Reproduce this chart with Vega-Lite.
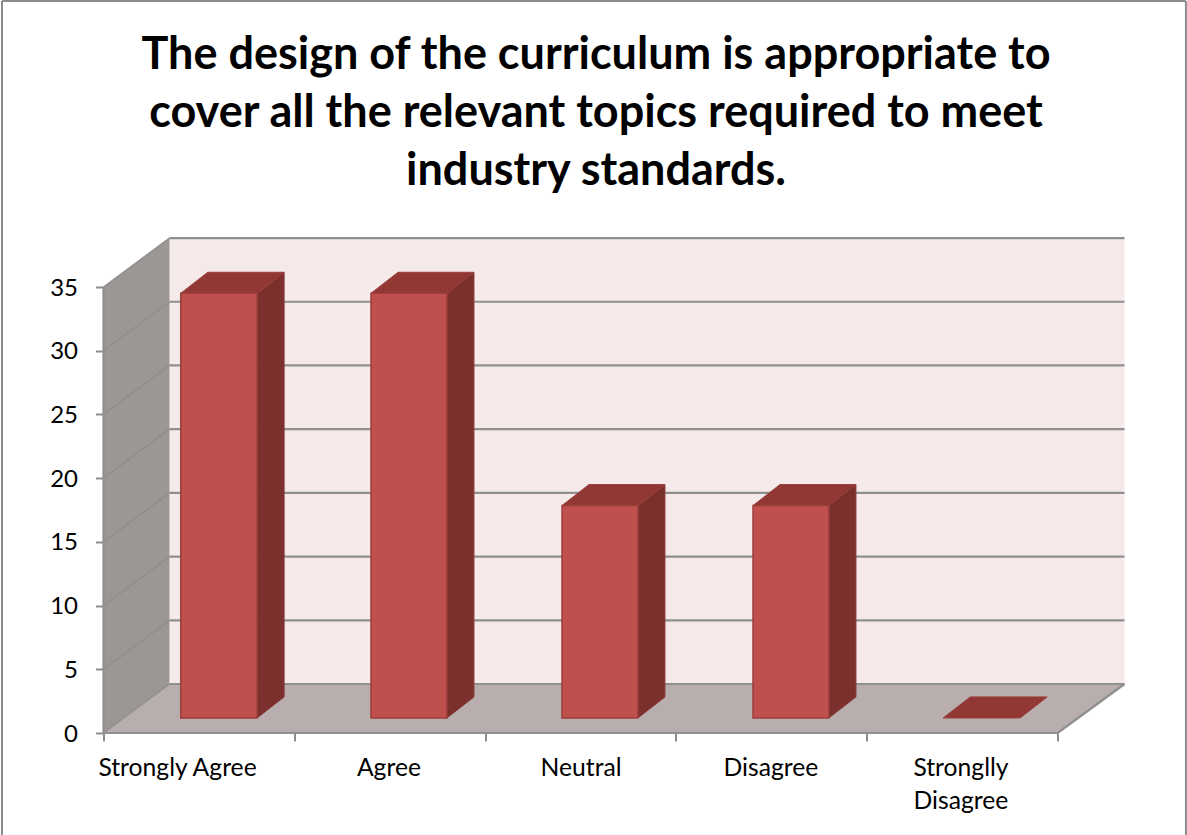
{"$schema":"https://vega.github.io/schema/vega-lite/v6.json","width":1021,"height":495,"autosize":{"type":"none"},"padding":{"left":103.5,"top":238,"right":62.5,"bottom":102},"background":"white",
"title":{"text":["The design of the curriculum is appropriate to","cover all the relevant topics required to meet","industry standards."],"font":"Lato","fontWeight":"bold","fontSize":45,"lineHeight":58,"color":"#000000","anchor":"middle","frame":"group","dx":-18,"baseline":"top","offset":-194},
"config":{"view":{"stroke":null}},
"datasets":{
"bars":[{"category":"Strongly Agree","x0":0.405,"x1":0.805,"value":33.33},{"category":"Agree","x0":1.402,"x1":1.8,"value":33.33},{"category":"Neutral","x0":2.403,"x1":2.801,"value":16.67},{"category":"Disagree","x0":3.404,"x1":3.802,"value":16.67}],
"sides":[{"category":"Strongly Agree","x":0.805,"lo":1.18,"hi":34.51},{"category":"Strongly Agree","x":0.9465,"lo":2.83,"hi":36.16},{"category":"Agree","x":1.8,"lo":1.18,"hi":34.51},{"category":"Agree","x":1.9415,"lo":2.83,"hi":36.16},{"category":"Neutral","x":2.801,"lo":1.18,"hi":17.85},{"category":"Neutral","x":2.9425,"lo":2.83,"hi":19.5},{"category":"Disagree","x":3.802,"lo":1.18,"hi":17.85},{"category":"Disagree","x":3.9435,"lo":2.83,"hi":19.5}],
"tops":[{"category":"Strongly Agree","y":34.51,"a":0.405,"b":0.805},{"category":"Strongly Agree","y":36.16,"a":0.5465,"b":0.9465},{"category":"Agree","y":34.51,"a":1.402,"b":1.8},{"category":"Agree","y":36.16,"a":1.5435,"b":1.9415},{"category":"Neutral","y":17.85,"a":2.403,"b":2.801},{"category":"Neutral","y":19.5,"a":2.5445,"b":2.9425},{"category":"Disagree","y":17.85,"a":3.404,"b":3.802},{"category":"Disagree","y":19.5,"a":3.5455,"b":3.9435},{"category":"Stronglly Disagree","y":1.18,"a":4.401,"b":4.804},{"category":"Stronglly Disagree","y":2.83,"a":4.5425,"b":4.9455}],
"grid":[{"v":0,"b":3.846},{"v":5,"b":8.846},{"v":10,"b":13.846},{"v":15,"b":18.846},{"v":20,"b":23.846},{"v":25,"b":28.846},{"v":30,"b":33.846},{"v":35,"b":38.846}],
"labels":[{"label":"Strongly Agree","pos":0.388},{"label":"Agree","pos":1.496},{"label":"Neutral","pos":2.503},{"label":"Disagree","pos":3.498},{"label":"Stronglly\nDisagree","pos":4.494}]
},
"layer":[
{"data":{"values":[{"x":-0.532,"x2":-0.532,"y":-8,"y2":57.46},{"x":5.673,"x2":5.673,"y":-8,"y2":57.46},{"x":-0.532,"x2":5.673,"y":57.46,"y2":57.46}]},"mark":{"type":"rule","color":"#8c8c8c","strokeWidth":2,"clip":false},"encoding":{"x":{"field":"x","type":"quantitative","scale":{"domain":[0,5.351],"nice":false,"zero":false},"axis":{"values":[0,1,2,3,4,5],"labels":false,"grid":false,"domain":false,"title":null,"tickSize":8,"tickWidth":2,"tickColor":"#8c8c8c"}},"x2":{"field":"x2"},"y":{"field":"y","type":"quantitative","scale":{"domain":[0,38.85],"nice":false,"zero":false},"axis":{"values":[0,5,10,15,20,25,30,35],"grid":false,"domain":false,"title":null,"tickSize":8,"tickWidth":2,"tickColor":"#8c8c8c","labelFont":"Lato","labelFontSize":24,"labelColor":"#000000","labelPadding":18,"labelOffset":1}},"y2":{"field":"y2"}}},
{"data":{"values":[{"x":0.346,"x2":5.351,"y":3.846,"y2":38.85}]},"mark":{"type":"rect","fill":"#f5e9e9"},"encoding":{"x":{"field":"x","type":"quantitative"},"x2":{"field":"x2"},"y":{"field":"y","type":"quantitative"},"y2":{"field":"y2"}}},
{"data":{"values":[{"x":0,"lo":0,"hi":35},{"x":0.346,"lo":3.846,"hi":38.85}]},"mark":{"type":"area","fill":"#9c9695"},"encoding":{"x":{"field":"x","type":"quantitative"},"y":{"field":"lo","type":"quantitative"},"y2":{"field":"hi"}}},
{"data":{"values":[{"y":0,"a":0,"b":5},{"y":3.846,"a":0.346,"b":5.351}]},"mark":{"type":"area","orient":"horizontal","fill":"#b8aeae"},"encoding":{"y":{"field":"y","type":"quantitative"},"x":{"field":"a","type":"quantitative"},"x2":{"field":"b"}}},
{"data":{"name":"grid"},"mark":{"type":"rule","color":"#8f8f8f","strokeWidth":2.2},"encoding":{"x":{"datum":0.346,"type":"quantitative"},"x2":{"datum":5.351},"y":{"field":"b","type":"quantitative"}}},
{"data":{"name":"grid"},"mark":{"type":"rule","color":"#8f8f8f","strokeWidth":1.5},"encoding":{"x":{"datum":0,"type":"quantitative"},"x2":{"datum":0.346},"y":{"field":"v","type":"quantitative"},"y2":{"field":"b"}}},
{"data":{"values":[{"x":0,"x2":0,"y":0,"y2":35},{"x":0,"x2":5,"y":0,"y2":0},{"x":5,"x2":5.351,"y":0,"y2":3.846}]},"mark":{"type":"rule","color":"#8f8f8f","strokeWidth":2.2},"encoding":{"x":{"field":"x","type":"quantitative"},"x2":{"field":"x2"},"y":{"field":"y","type":"quantitative"},"y2":{"field":"y2"}}},
{"data":{"name":"sides"},"mark":{"type":"area","fill":"#7b302e","stroke":"#8a3836","strokeWidth":1},"encoding":{"x":{"field":"x","type":"quantitative"},"y":{"field":"lo","type":"quantitative"},"y2":{"field":"hi"},"detail":{"field":"category"}}},
{"data":{"name":"tops"},"mark":{"type":"area","orient":"horizontal","fill":"#913835","stroke":"#9a3d3a","strokeWidth":1},"encoding":{"y":{"field":"y","type":"quantitative"},"x":{"field":"a","type":"quantitative"},"x2":{"field":"b"},"detail":{"field":"category"}}},
{"data":{"name":"bars"},"mark":{"type":"rect","fill":"#c0504d","stroke":"#9b3e3b","strokeWidth":1.5,"yOffset":-15,"y2Offset":-15},"encoding":{"x":{"field":"x0","type":"quantitative"},"x2":{"field":"x1"},"y":{"field":"value","type":"quantitative"},"y2":{"datum":0}}},
{"data":{"name":"labels"},"mark":{"type":"text","font":"Lato","fontSize":24.7,"color":"#000000","align":"center","baseline":"alphabetic","lineBreak":"\n","lineHeight":33,"dy":43,"clip":false},"encoding":{"x":{"field":"pos","type":"quantitative"},"y":{"datum":0,"type":"quantitative"},"text":{"field":"label"}}}
]}
